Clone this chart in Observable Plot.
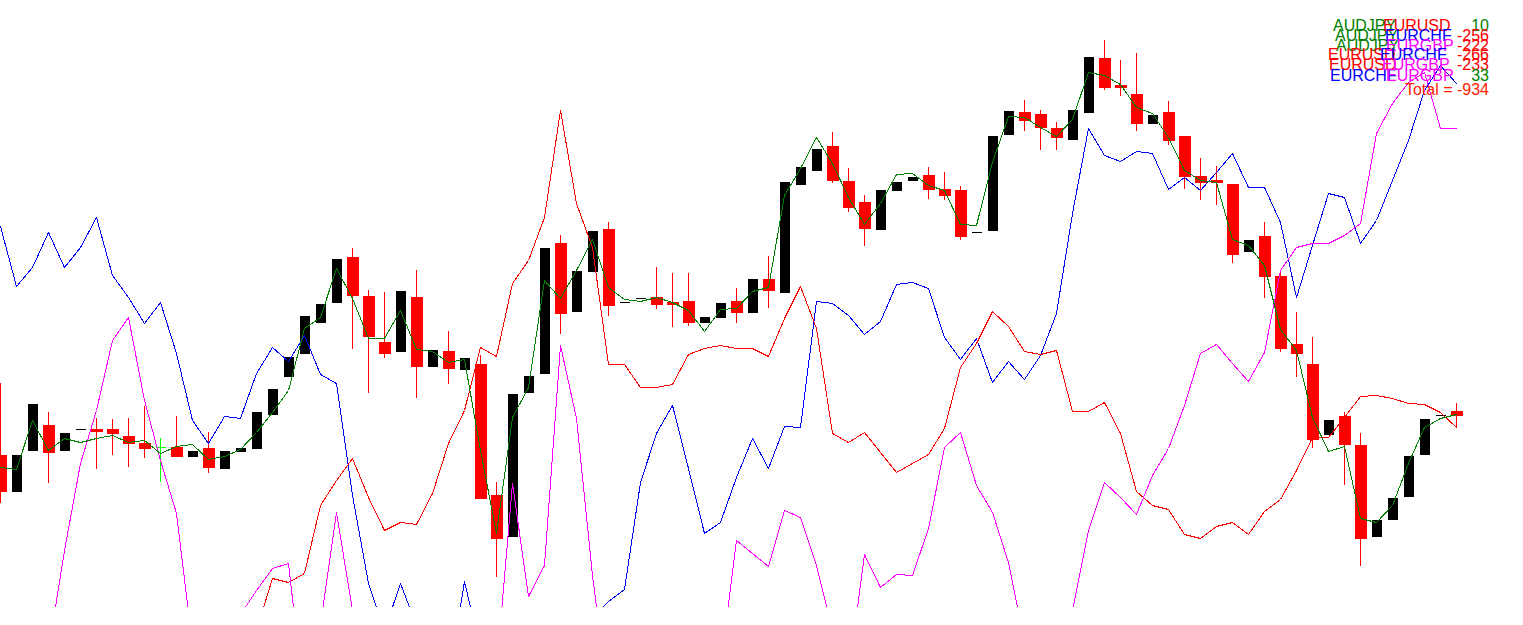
<!DOCTYPE html>
<html>
<head>
<meta charset="utf-8">
<script src="https://cdn.jsdelivr.net/npm/d3@7"></script>
<script src="https://cdn.jsdelivr.net/npm/@observablehq/plot@0.6"></script>
<style>
  html, body { margin: 0; padding: 0; background: #ffffff; }
  #wrap { position: relative; width: 1523px; height: 625px; overflow: hidden; background: #ffffff; }
  #wrap > svg { position: absolute; left: 0; top: 0; }
  #legend { position: absolute; left: 0; top: 0; pointer-events: none; }
</style>
</head>
<body>
<div id="wrap"></div>
<script>
// ---------- DATA (levels; larger level = lower on the chart) ----------
// candle type: "b" = bull (black body), "r" = bear (red body), "g" = doji cross (lime)
const candleType = [
  "r","b","b","r","b","b","r","r","r","r",
  "g","r","b","r","b","b","b","b","b","b",
  "b","b","r","r","r","b","r","b","r","b",
  "r","r","b","b","b","r","b","b","r","b",
  "b","r","r","r","b","b","r","b","r","b",
  "b","b","r","r","r","b","b","b","r","r",
  "r","b","b","b","r","r","r","b","b","r",
  "r","r","b","r","r","r","r","r","b","r",
  "r","r","r","b","r","r","b","b","b","b",
  "b","r"
];
const bodyTop = [
  455,455,404,425,433,429,429,429,436,443,
  447,447,451,448,451,448,412,389,357,316,
  304,259,257,296,342,291,297,350,351,358,
  364,495,394,376,248,243,271,231,229,302,
  298,297,302,301,317,303,301,279,279,182,
  167,149,146,181,202,190,182,177,175,189,
  190,232,136,111,112,114,128,110,57,58,
  85,94,115,112,136,176,180,184,240,236,
  276,344,364,420,416,445,520,498,456,419,
  415,411
];
const bodyBottom = [
  491,491,450,452,450,429,431,433,443,448,
  447,456,456,467,468,451,448,414,376,353,
  322,302,295,336,353,351,366,366,368,369,
  498,538,536,392,373,313,311,271,305,302,
  298,304,304,322,322,317,312,312,290,292,
  184,170,180,207,228,229,190,180,189,195,
  236,232,230,134,120,127,137,139,112,87,
  87,123,123,140,176,182,182,254,251,276,
  348,353,439,434,444,538,536,519,496,454,
  415,415
];
const wickTop = [
  383,null,null,412,null,null,418,419,418,406,
  438,416,null,432,null,null,null,null,null,null,
  null,null,248,290,292,null,270,null,331,null,
  355,482,null,null,null,235,null,null,222,null,
  null,267,273,273,null,null,288,null,256,null,
  null,null,132,168,195,null,null,null,167,172,
  186,null,null,null,100,110,122,null,null,40,
  60,53,null,101,136,158,166,184,null,222,
  273,312,337,null,412,433,null,null,null,null,
  null,403
];
const wickBottom = [
  503,null,null,483,null,null,469,455,467,458,
  482,456,null,473,null,null,null,null,null,null,
  null,null,349,393,358,null,398,null,384,null,
  498,577,null,null,null,334,null,null,316,null,
  null,309,327,326,null,null,323,null,308,null,
  null,null,183,212,246,null,null,null,199,200,
  240,null,null,null,131,150,150,null,null,90,
  96,131,null,145,189,200,205,263,null,298,
  352,377,448,null,485,566,null,null,null,null,
  null,427
];
// moving average (green)
const maLine = [
  467,469,420,450,438,442,438,435,442,440,
  453,446,444,459,456,449,432,412,390,328,
  317,268,298,338,338,310,349,351,362,359,
  450,533,417,387,280,298,270,239,287,299,
  301,297,302,310,331,309,308,291,287,195,
  168,137,163,197,224,203,174,173,185,190,
  224,225,162,116,117,127,136,119,72,75,
  84,107,113,137,170,180,182,239,245,265,
  329,350,417,451,446,518,522,505,463,427,
  418,414
];
// EURCHF (blue)
const lineEURCHF = [
  226,286,267,232,267,247,217,275,297,323,
  302,353,420,443,416,418,373,347,361,335,
  374,383,495,583,630,583,625,null,680,581,
  650,null,null,null,null,null,null,618,601,589,
  482,433,405,468,533,522,477,438,468,426,
  427,301,303,315,334,321,284,282,288,337,
  359,338,382,361,379,355,313,213,128,155,
  161,151,153,189,177,190,172,153,187,187,
  222,297,245,193,197,243,220,180,140,90,
  65,83
];
// EURUSD (red)
const lineEURUSD = [
  null,null,null,null,null,null,null,null,null,null,
  null,null,null,null,null,null,630,578,582,573,
  505,480,458,497,530,522,524,493,443,410,
  347,356,283,260,217,110,203,247,364,364,
  387,387,384,354,348,345,348,348,356,318,
  286,328,433,442,432,452,472,463,454,428,
  367,343,311,326,351,354,350,411,411,402,
  433,491,505,509,534,538,526,522,534,511,
  499,470,437,437,417,396,395,398,403,404,
  412,427
];
// EURGBP (magenta)
const lineEURGBP = [
  null,null,null,650,550,463,410,340,317,400,
  460,513,645,null,null,614,590,568,563,704,
  624,512,610,null,null,null,null,null,null,null,
  null,670,483,596,565,345,418,575,700,null,
  null,null,null,null,null,668,540,553,566,510,
  517,565,630,675,554,587,574,575,528,447,
  432,485,512,562,642,null,null,610,530,482,
  497,514,475,448,405,353,344,363,381,352,
  270,247,243,243,235,223,133,103,82,72,
  128,128
];
// legend texts
const legendSymbolA = ["AUDJPY","AUDJPY","AUDJPY","EURUSD","EURUSD","EURCHF"];
const legendSymbolB = ["EURUSD","EURCHF","EURGBP","EURCHF","EURGBP","EURGBP"];
const legendValue = [10, -256, -222, -266, -233, 33];
const legendTotal = -934;

// ---------- STYLE ----------
const symbolColor = {AUDJPY: "#008000", EURUSD: "#ff0000", EURCHF: "#0000ff", EURGBP: "#ff00ff"};
const idx = d3.range(candleType.length);
const bulls = idx.filter(i => candleType[i] === "b");
const bears = idx.filter(i => candleType[i] === "r");
const crosses = idx.filter(i => candleType[i] === "g");
const val = a => i => (a[i] == null ? NaN : a[i]);

const chart = Plot.plot({
  width: 1523,
  height: 607,
  margin: 0,
  x: {type: "linear", domain: [0, 1], range: [1, 17], axis: null},
  y: {type: "linear", domain: [0, 607], range: [0, 607], axis: null},
  style: {background: "#ffffff", overflow: "hidden"},
  marks: [
    // wicks
    Plot.ruleX(bears, {x: i => i, y1: val(wickTop), y2: val(wickBottom), stroke: "#ff0000", strokeWidth: 1, dx: -1, clip: true}),
    Plot.ruleX(crosses, {x: i => i, y1: val(wickTop), y2: val(wickBottom), stroke: "#00ff00", strokeWidth: 1, dx: -1, clip: true}),
    // bodies
    Plot.ruleX(bulls, {x: i => i, y1: val(bodyTop), y2: val(bodyBottom), stroke: "#000000", strokeWidth: 10, dx: -0.5, insetTop: -0.5, insetBottom: -0.5, clip: true, shapeRendering: "crispEdges"}),
    Plot.ruleX(bears, {x: i => i, y1: val(bodyTop), y2: val(bodyBottom), stroke: "#ff0000", strokeWidth: 12, dx: -0.5, insetTop: -0.5, insetBottom: -0.5, clip: true, shapeRendering: "crispEdges"}),
    Plot.ruleX(crosses, {x: i => i, y1: val(bodyTop), y2: val(bodyBottom), stroke: "#00ff00", strokeWidth: 10, dx: -0.5, insetTop: -0.5, insetBottom: -0.5, clip: true, shapeRendering: "crispEdges"}),
    // indicator lines
    Plot.line(idx, {x: i => i, y: val(lineEURCHF), stroke: symbolColor.EURCHF, strokeWidth: 1, dx: -1, clip: true, shapeRendering: "crispEdges"}),
    Plot.line(idx, {x: i => i, y: val(lineEURUSD), stroke: symbolColor.EURUSD, strokeWidth: 1, dx: -1, clip: true, shapeRendering: "crispEdges"}),
    Plot.line(idx, {x: i => i, y: val(lineEURGBP), stroke: symbolColor.EURGBP, strokeWidth: 1, dx: -1, clip: true, shapeRendering: "crispEdges"}),
    Plot.line(idx, {x: i => i, y: val(maLine), stroke: "#008000", strokeWidth: 1, dx: -1, clip: true, shapeRendering: "crispEdges"})
  ]
});
document.getElementById("wrap").appendChild(chart);

// ---------- overlaid text block (top right) ----------
const rowBaseline = [30.5, 41, 51, 60, 69.5, 80.5];
const colAx = [1333, 1335, 1336, 1328, 1329, 1330];
const colBx = [1383, 1385, 1386, 1380, 1382, 1386];
const valueRight = 1489;
const totalBaseline = 94.5;
const fontStyle = {family: "'Liberation Sans', Arial, sans-serif", size: "16px", spacing: "0px"};

const legend = d3.select("#wrap").append("svg")
  .attr("id", "legend").attr("width", 1523).attr("height", 625)
  .style("font-family", fontStyle.family).style("font-size", fontStyle.size)
  .style("letter-spacing", fontStyle.spacing);

legendSymbolA.forEach((s, r) => {
  legend.append("text").attr("x", colAx[r]).attr("y", rowBaseline[r]).attr("fill", symbolColor[s]).text(s);
});
legendSymbolB.forEach((s, r) => {
  legend.append("text").attr("x", colBx[r]).attr("y", rowBaseline[r]).attr("fill", symbolColor[s]).text(s);
});
legendValue.forEach((v, r) => {
  legend.append("text").attr("x", valueRight).attr("y", rowBaseline[r]).attr("text-anchor", "end")
    .attr("fill", v >= 0 ? "#008000" : "#ff0000").text(String(v));
});
legend.append("text").attr("x", valueRight).attr("y", totalBaseline).attr("text-anchor", "end")
  .attr("fill", "#ff2000").text("Total  = " + legendTotal);
</script>
</body>
</html>
